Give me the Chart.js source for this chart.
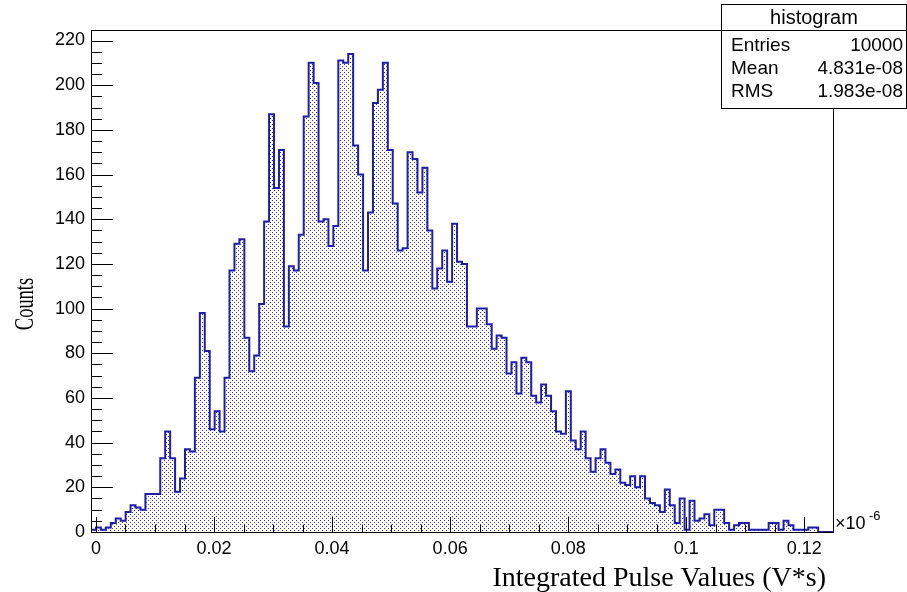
<!DOCTYPE html>
<html>
<head>
<meta charset="utf-8">
<script src="https://cdn.jsdelivr.net/npm/chart.js@4.4.1/dist/chart.umd.min.js"></script>
<style>
  html, body { margin: 0; padding: 0; background: #fff; }
</style>
</head>
<body>
<canvas id="histChart" width="907" height="592"></canvas>
<script>
// bin contents, 150 bins
const counts = [
    1, 2, 1, 2, 4, 6, 5, 9, 12, 11,
    10, 17, 17, 17, 33, 45, 33, 18, 24, 37,
    36, 69, 98, 81, 46, 54, 45, 69, 117, 129,
    131, 87, 72, 79, 102, 139, 187, 154, 171, 92,
    119, 117, 133, 186, 210, 201, 139, 140, 128, 137,
    211, 210, 214, 173, 160, 117, 143, 192, 198, 210,
    171, 147, 126, 127, 170, 167, 152, 163, 135, 109,
    118, 126, 112, 138, 121, 120, 92, 92, 100, 100,
    93, 82, 88, 87, 71, 76, 62, 78, 76, 61,
    58, 66, 61, 54, 45, 44, 63, 41, 37, 45,
    33, 27, 33, 37, 31, 26, 28, 22, 21, 25,
    20, 25, 15, 13, 12, 9, 19, 12, 4, 15,
    1, 14, 5, 6, 8, 3, 10, 10, 4, 1,
    3, 4, 4, 1, 1, 1, 1, 4, 4, 1,
    5, 3, 1, 1, 1, 2, 2, 0, 0, 0,
];
const xMin = -0.00084; // units of 1e-6 V*s
const binWidth = 0.000838;
const xTicks = [0, 0.02, 0.04, 0.06, 0.08, 0.1, 0.12];
const yTicks = [0, 20, 40, 60, 80, 100, 120, 140, 160, 180, 200, 220];
const yMax = 224.7;
const statsTitle = "histogram";
const statsLabels = ["Entries", "Mean", "RMS"];
const statsValues = ["10000", "4.831e-08", "1.983e-08"];

const xMax = xMin + counts.length * binWidth;

// left bin edges + closing point at the upper edge
const points = [{ x: xMin, y: 0 }];
counts.forEach((c, i) => points.push({ x: xMin + i * binWidth, y: c }));
points.push({ x: xMax, y: 0 });

function dotPattern(ctx) {
    const c = document.createElement("canvas");
    c.width = 4;
    c.height = 4;
    const g = c.getContext("2d");
    g.fillStyle = "rgb(40,40,255)";
    g.fillRect(0, 0, 1, 1);
    g.fillRect(2, 2, 1, 1);
    return ctx.createPattern(c, "repeat");
}

const sans = "'Liberation Sans', Arial, sans-serif";
const serif = "'Liberation Serif', 'Times New Roman', serif";

// frame, inside ticks, titles and stats box
const rootFrame = {
    id: "rootFrame",
    afterDraw(chart) {
        const { ctx, chartArea: a, scales } = chart;
        const xs = scales.x, ys = scales.y;
        ctx.save();
        ctx.strokeStyle = "#000";
        ctx.lineWidth = 1;
        ctx.strokeRect(Math.round(a.left) + 0.5, Math.round(a.top) + 0.5,
            Math.round(a.right - a.left), Math.round(a.bottom - a.top));

        ctx.beginPath();
        for (let v = 0; v <= yMax; v += 5) {
            const y = Math.round(ys.getPixelForValue(v)) + 0.5;
            const len = v % 20 === 0 ? 22 : 11;
            ctx.moveTo(a.left, y);
            ctx.lineTo(a.left + len, y);
        }
        for (let i = 0; i * 0.005 <= xMax; i++) {
            const x = Math.round(xs.getPixelForValue(i * 0.005)) + 0.5;
            const len = i % 4 === 0 ? 15 : 7.5;
            ctx.moveTo(x, a.bottom);
            ctx.lineTo(x, a.bottom - len);
        }
        ctx.stroke();

        // exponent of the x axis
        ctx.fillStyle = "#000";
        ctx.textBaseline = "middle";
        ctx.textAlign = "left";
        ctx.font = "18px " + sans;
        ctx.fillText("\u00d710", a.right + 2, a.bottom - 8);
        ctx.font = "13px " + sans;
        ctx.fillText("-6", a.right + 36, a.bottom - 16);

        // axis titles
        ctx.font = "28px " + serif;
        ctx.textAlign = "right";
        ctx.textBaseline = "alphabetic";
        ctx.fillText("Integrated Pulse Values (V*s)", 826, 586);

        ctx.save();
        ctx.translate(33, 304);
        ctx.rotate(-Math.PI / 2);
        ctx.scale(0.66, 1);
        ctx.font = "28px " + serif;
        ctx.textAlign = "center";
        ctx.fillText("Counts", 0, 0);
        ctx.restore();

        // stats box
        const bx = 721.5, by = 4.5, bw = 185, bh = 104;
        ctx.fillStyle = "#fff";
        ctx.fillRect(bx, by, bw, bh);
        ctx.strokeRect(bx, by, bw, bh);
        ctx.beginPath();
        ctx.moveTo(bx, 30.5);
        ctx.lineTo(bx + bw, 30.5);
        ctx.stroke();
        ctx.fillStyle = "#000";
        ctx.textBaseline = "middle";
        ctx.textAlign = "center";
        ctx.font = "20px " + sans;
        ctx.fillText(statsTitle, 814, 18);
        ctx.font = "19px " + sans;
        statsLabels.forEach((lab, i) => {
            const y = 45.5 + i * 23;
            ctx.textAlign = "left";
            ctx.fillText(lab, 731, y);
            ctx.textAlign = "right";
            ctx.fillText(statsValues[i], 903, y);
        });
        ctx.restore();
    },
};

Chart.defaults.color = "#000";
const ctx = document.getElementById("histChart").getContext("2d");

const chart = new Chart(ctx, {
    type: "line",
    data: {
        datasets: [
            {
                data: points,
                stepped: "before",
                fill: "origin",
                borderColor: "#1e1eaa",
                borderWidth: 2,
                backgroundColor: dotPattern(ctx),
                pointRadius: 0,
            },
        ],
    },
    options: {
        responsive: false,
        animation: false,
        devicePixelRatio: 1,
        layout: { padding: { top: 30, right: 74, left: 0, bottom: 0 } },
        plugins: { legend: { display: false }, tooltip: { enabled: false } },
        scales: {
            x: {
                type: "linear",
                min: xMin,
                max: xMax,
                afterBuildTicks: (s) => { s.ticks = xTicks.map((v) => ({ value: v })); },
                afterFit: (s) => { s.height = 60; },
                grid: { display: false, drawTicks: false },
                border: { display: false },
                ticks: {
                    font: { size: 18, family: sans },
                    padding: 6,
                    maxRotation: 0,
                    autoSkip: false,
                    callback: (v) => String(v),
                },
            },
            y: {
                min: 0,
                max: yMax,
                afterBuildTicks: (s) => { s.ticks = yTicks.map((v) => ({ value: v })); },
                afterFit: (s) => { s.width = 91; },
                grid: { display: false, drawTicks: false },
                border: { display: false },
                ticks: {
                    font: { size: 18, family: sans },
                    padding: 6,
                    autoSkip: false,
                },
            },
        },
    },
    plugins: [rootFrame],
});
</script>
</body>
</html>
